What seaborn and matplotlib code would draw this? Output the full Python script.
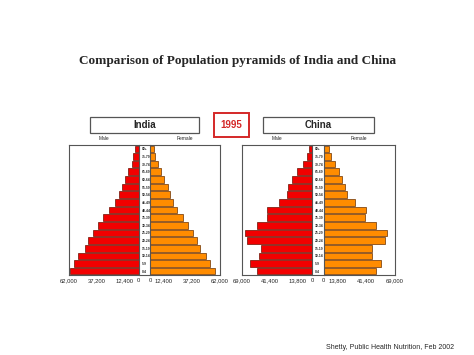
import matplotlib
matplotlib.use('Agg')
import matplotlib.pyplot as plt
from matplotlib.patches import Rectangle
import pandas as pd
import seaborn as sns

sns.set_style('white')
plt.rcParams['font.family'] = ['Liberation Sans', 'DejaVu Sans']

# age groups, top of pyramid first
age_groups = ['80+', '75-79', '70-74', '65-69', '60-64', '55-59', '50-54', '45-49', '40-44',
              '35-39', '30-34', '25-29', '20-24', '15-19', '10-14', '5-9', '0-4']

# population (thousands)
india_male = [2700, 4500, 6000, 9000, 11700, 14700, 17700, 21300, 26700,
              31700, 36200, 41000, 45200, 47700, 54200, 57500, 60800]
india_female = [3600, 4500, 6900, 9800, 12500, 15800, 17900, 20300, 24100,
                29200, 33400, 37800, 42000, 44700, 50000, 53300, 57800]
china_male = [3000, 4900, 8900, 14500, 19700, 23700, 25000, 32500, 44000,
              44000, 54200, 66400, 63700, 50600, 52200, 61400, 54200]
china_female = [5300, 7600, 11500, 15100, 18400, 21000, 23000, 30600, 41400,
                40400, 51300, 61800, 59500, 47000, 47600, 55500, 50600]

india_ticks = [62000, 37200, 12400, 0]
china_ticks = [69000, 41400, 13800, 0]

W, H = 474, 355
fig = plt.figure(figsize=(W / 100, H / 100), dpi=100)


def rect(x0, y0, x1, y1):
    return [x0 / W, 1 - y1 / H, (x1 - x0) / W, (y1 - y0) / H]


def fig_box(x0, y0, x1, y1, ec, lw):
    fig.patches.append(Rectangle((x0 / W, 1 - y1 / H), (x1 - x0) / W, (y1 - y0) / H,
                                 transform=fig.transFigure, fill=False, ec=ec, lw=lw))


def pyramid(name, male, female, ticks, frame, x_mid0, x_mid1):
    x0, y0, x1, y1 = frame
    fr = fig.add_axes(rect(x0, y0, x1, y1))
    fr.set_xticks([])
    fr.set_yticks([])
    for s in fr.spines.values():
        s.set_color('#555555')
        s.set_linewidth(0.8)
    fr.patch.set_alpha(0)

    df = pd.DataFrame({'age': age_groups, 'male': male, 'female': female})

    axm = fig.add_axes(rect(x0, y0, x_mid0, y1))
    sns.barplot(data=df, x='male', y='age', order=age_groups, orient='h', ax=axm,
                color='#f20000', saturation=1, width=0.86, edgecolor='#6a1000', linewidth=0.5)
    axm.set_xlim(ticks[0], 0)
    axf = fig.add_axes(rect(x_mid1, y0, x1, y1))
    sns.barplot(data=df, x='female', y='age', order=age_groups, orient='h', ax=axf,
                color='#ff8c00', saturation=1, width=0.86, edgecolor='#6a3000', linewidth=0.5)
    axf.set_xlim(0, ticks[0])

    for ax in (axm, axf):
        ax.set_xlabel('')
        ax.set_ylabel('')
        ax.patch.set_alpha(0)
        ax.set_xticks(ticks)
        ax.set_xticklabels([f'{t:,}' for t in ticks], fontsize=4.2)
        ax.tick_params(axis='x', length=0, pad=2.3)
        for s in ax.spines.values():
            s.set_visible(False)
    axm.spines['right'].set_visible(True)
    axm.spines['right'].set_color('#555555')
    axm.spines['right'].set_linewidth(0.8)
    axf.spines['left'].set_visible(True)
    axf.spines['left'].set_color('#555555')
    axf.spines['left'].set_linewidth(0.8)

    axm.yaxis.tick_right()
    axm.tick_params(axis='y', length=0, pad=2.2, labelsize=2.4)
    for lab in axm.get_yticklabels():
        lab.set_fontweight('bold')
    axf.set_yticks([])

    # header box with country name
    fig_box(x0 + 20.5, 116.7, x1 - 21, 133.3, '#555555', 0.9)
    fig.text((x0 + x1) / 2 / W, 1 - 125 / H, name, ha='center', va='center',
             fontsize=7, fontweight='bold', fontstretch='condensed')
    fig.text((x0 + x_mid0) / 2 / W, 1 - 138.7 / H, 'Male', ha='center', va='center', fontsize=3.5)
    fig.text((x_mid1 + x1) / 2 / W, 1 - 138.7 / H, 'Female', ha='center', va='center', fontsize=3.5)


pyramid('India', india_male, india_female, india_ticks, (69, 145, 220, 275), 138.5, 150)
pyramid('China', china_male, china_female, china_ticks, (242, 145, 394.5, 275), 312, 323.5)

fig_box(214, 113.3, 249.3, 137.3, '#d42828', 1.4)
fig.text(231.7 / W, 1 - 125 / H, '1995', ha='center', va='center', color='#d42828',
         fontsize=7, fontweight='bold')

fig.text(237.5 / W, 1 - 61 / H, 'Comparison of Population pyramids of India and China',
         ha='center', va='center', fontsize=9.5, fontweight='bold', family='Liberation Serif')
fig.text(454 / W, 1 - 347.3 / H, 'Shetty, Public Health Nutrition, Feb 2002',
         ha='right', va='center', fontsize=5)

fig.savefig('out.png', dpi=100)
